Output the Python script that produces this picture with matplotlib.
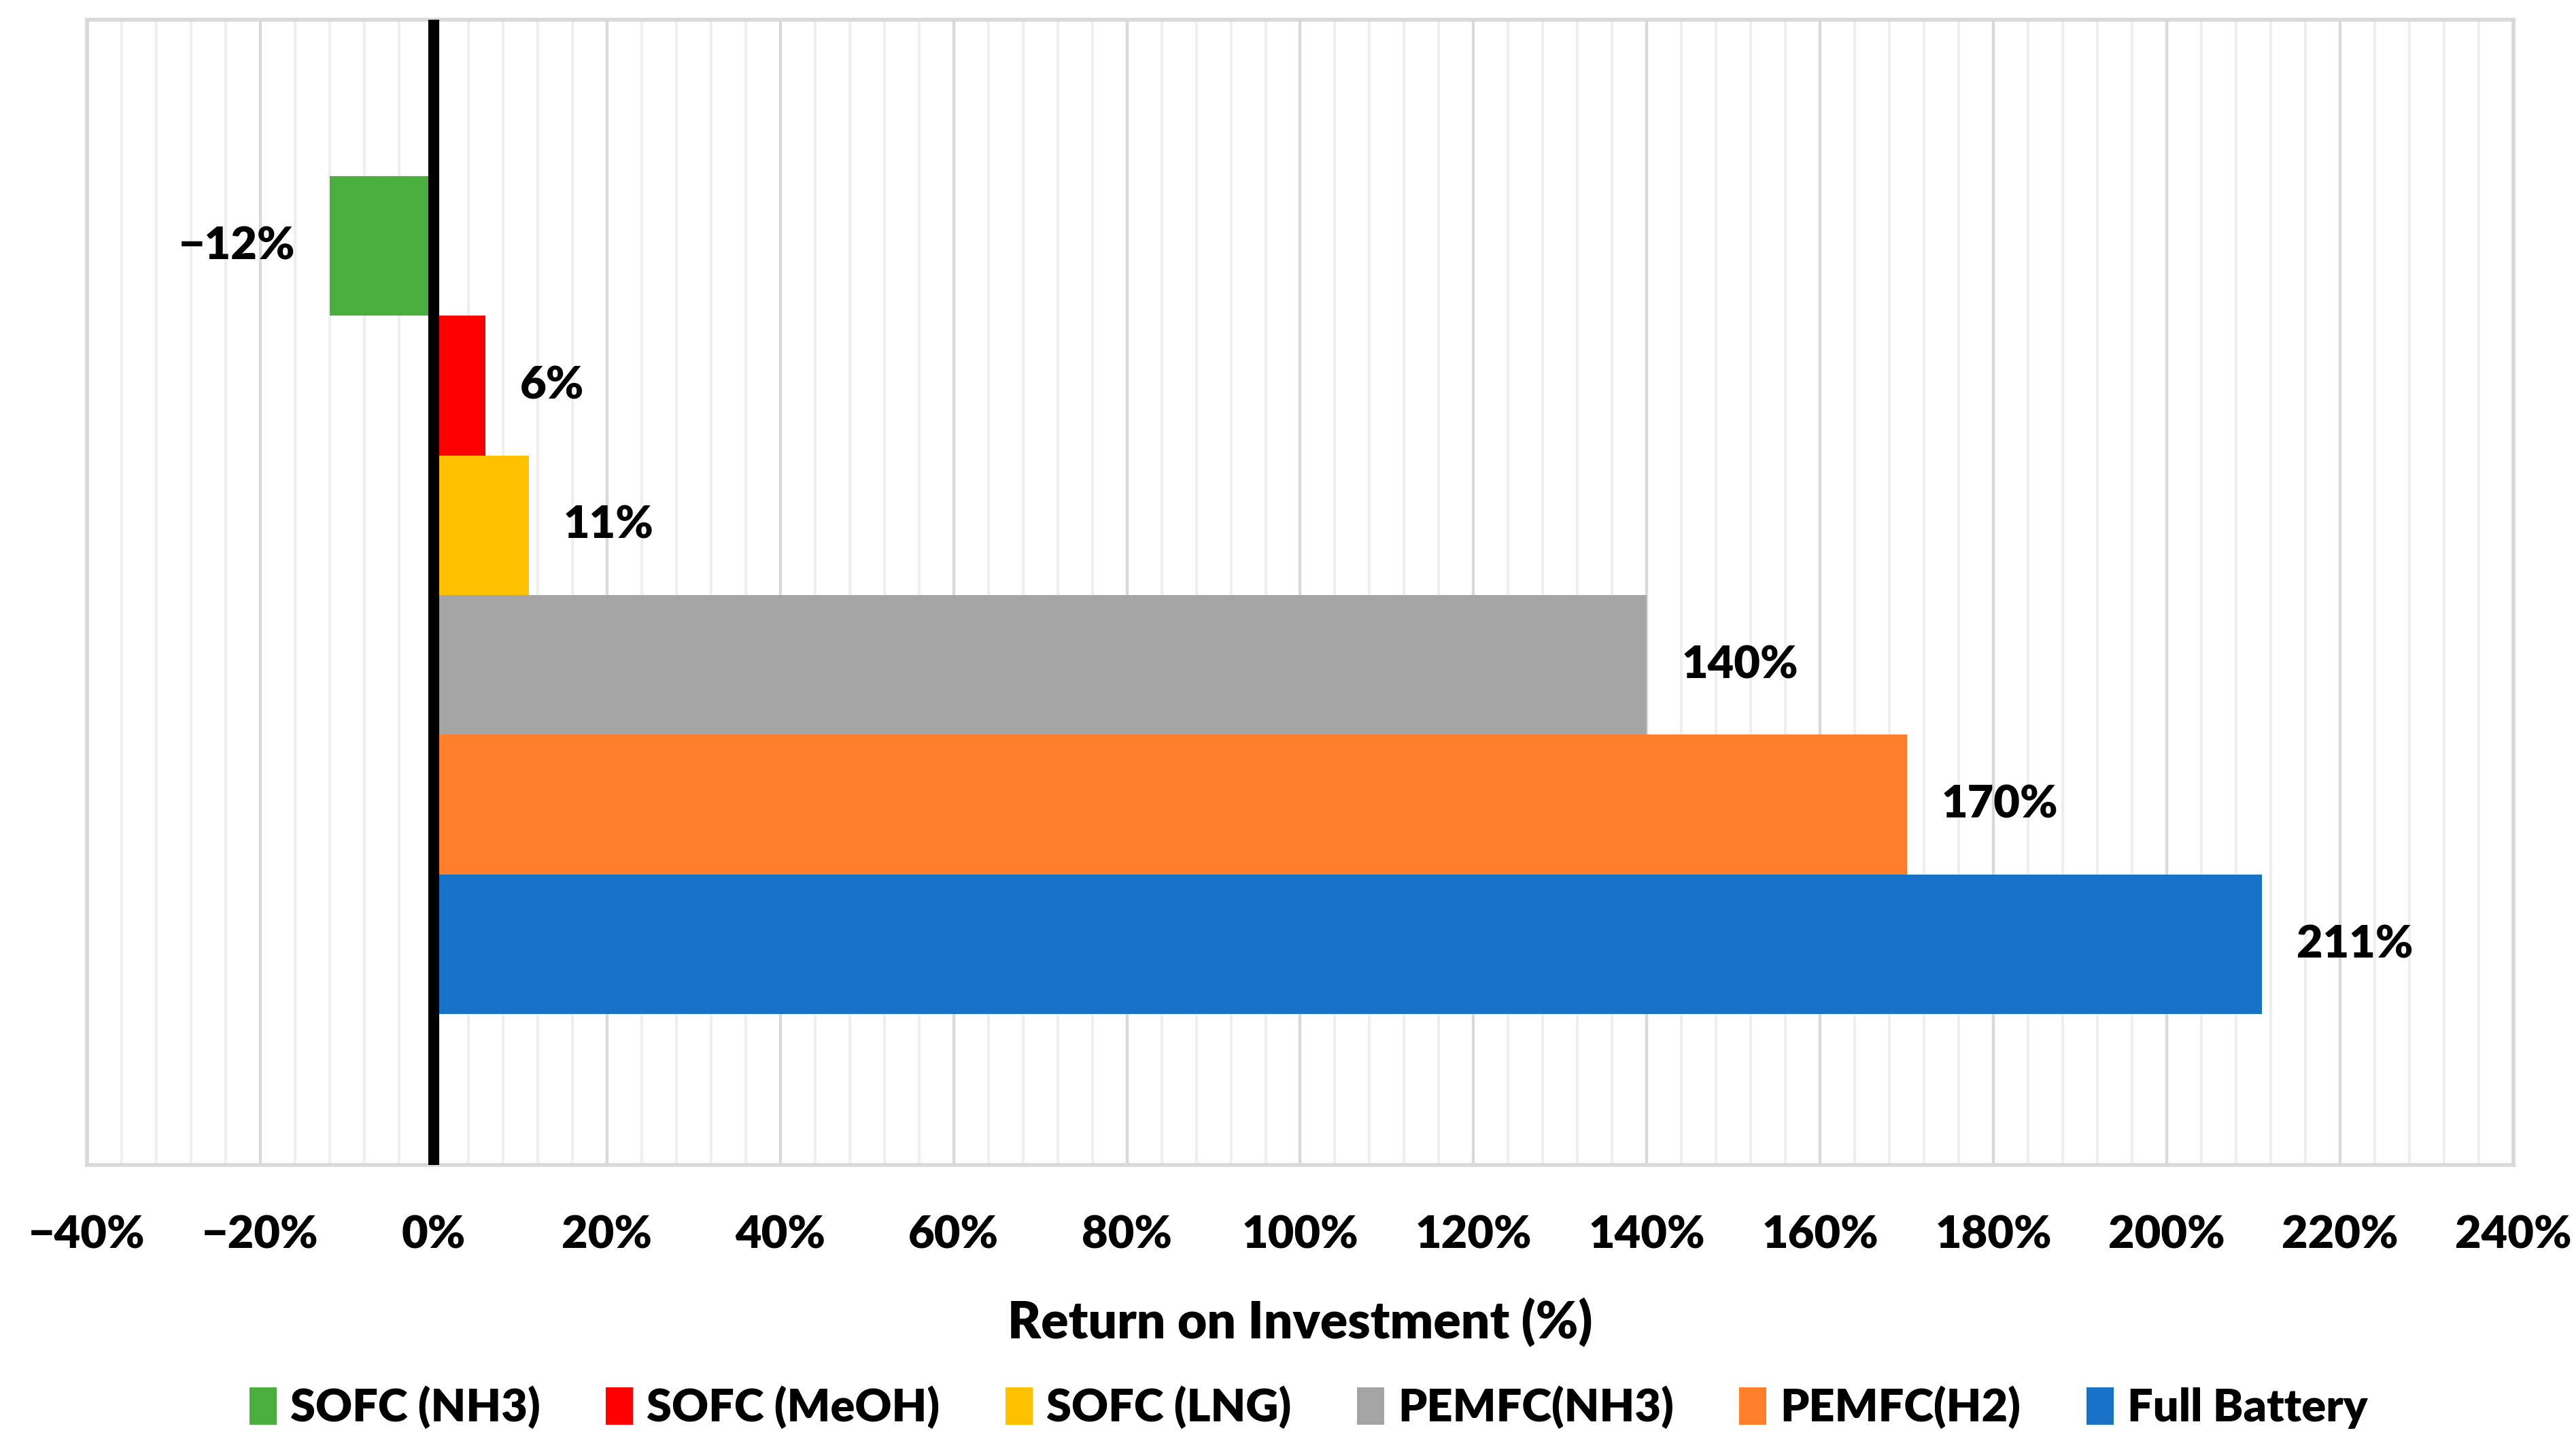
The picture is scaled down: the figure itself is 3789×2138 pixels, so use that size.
import matplotlib
matplotlib.use("Agg")
import matplotlib.pyplot as plt
from matplotlib.ticker import MultipleLocator, FuncFormatter

# datos
series = ['SOFC (NH3)', 'SOFC (MeOH)', 'SOFC (LNG)', 'PEMFC(NH3)', 'PEMFC(H2)', 'Full Battery']
roi = [-12, 6, 11, 140, 170, 211]
colores = ['#4AAF3E', '#FF0000', '#FFC000', '#A5A5A5', '#FF7F2A', '#1873C8']
etiquetas = ['\u221212%', '6%', '11%', '140%', '170%', '211%']

plt.rcParams['font.family'] = ['Lato', 'DejaVu Sans']
plt.rcParams['font.weight'] = 'heavy'

fig = plt.figure(figsize=(18.945, 10.69), dpi=200)
ax = fig.add_axes([0.0338, 0.1988, 0.9419, 0.7876])

# la primera serie va arriba
pos = [len(series) - 1 - i for i in range(len(series))]
for p, v, c, s in zip(pos, roi, colores, series):
    ax.barh(p, v, height=1.0, color=c, label=s, zorder=3)

for p, v, t in zip(pos, roi, etiquetas):
    if v < 0:
        ax.text(v - 4, p, t, ha='right', va='center', fontsize=24, fontweight='heavy', zorder=4)
    else:
        ax.text(v + 4, p, t, ha='left', va='center', fontsize=24, fontweight='heavy', zorder=4)

ax.axvline(0, color='black', linewidth=5.8, zorder=5)

ax.set_xlim(-40, 240)
ax.set_ylim(-1.58, 6.62)
ax.xaxis.set_major_locator(MultipleLocator(20))
ax.xaxis.set_minor_locator(MultipleLocator(4))
ax.xaxis.set_major_formatter(FuncFormatter(lambda x, _: f"{int(x)}%".replace('-', '\u2212')))
ax.set_yticks([])
ax.grid(axis='x', which='major', color='#D9D9D9', linewidth=1.6, zorder=0)
ax.grid(axis='x', which='minor', color='#EFEFEF', linewidth=1.4, zorder=0)
ax.tick_params(axis='x', which='both', length=0, pad=26, labelsize=24)
for sp in ax.spines.values():
    sp.set_color('#D9D9D9')
    sp.set_linewidth(2)

ax.set_xlabel('Return on Investment (%)', fontsize=27, fontweight='heavy', labelpad=22)

fig.legend(loc='center', bbox_to_anchor=(0.508, 0.032), ncol=6, frameon=False,
           fontsize=24, handlelength=0.6, handleheight=0.9, handletextpad=0.3,
           columnspacing=1.45)

plt.savefig('out.png', dpi=200)
